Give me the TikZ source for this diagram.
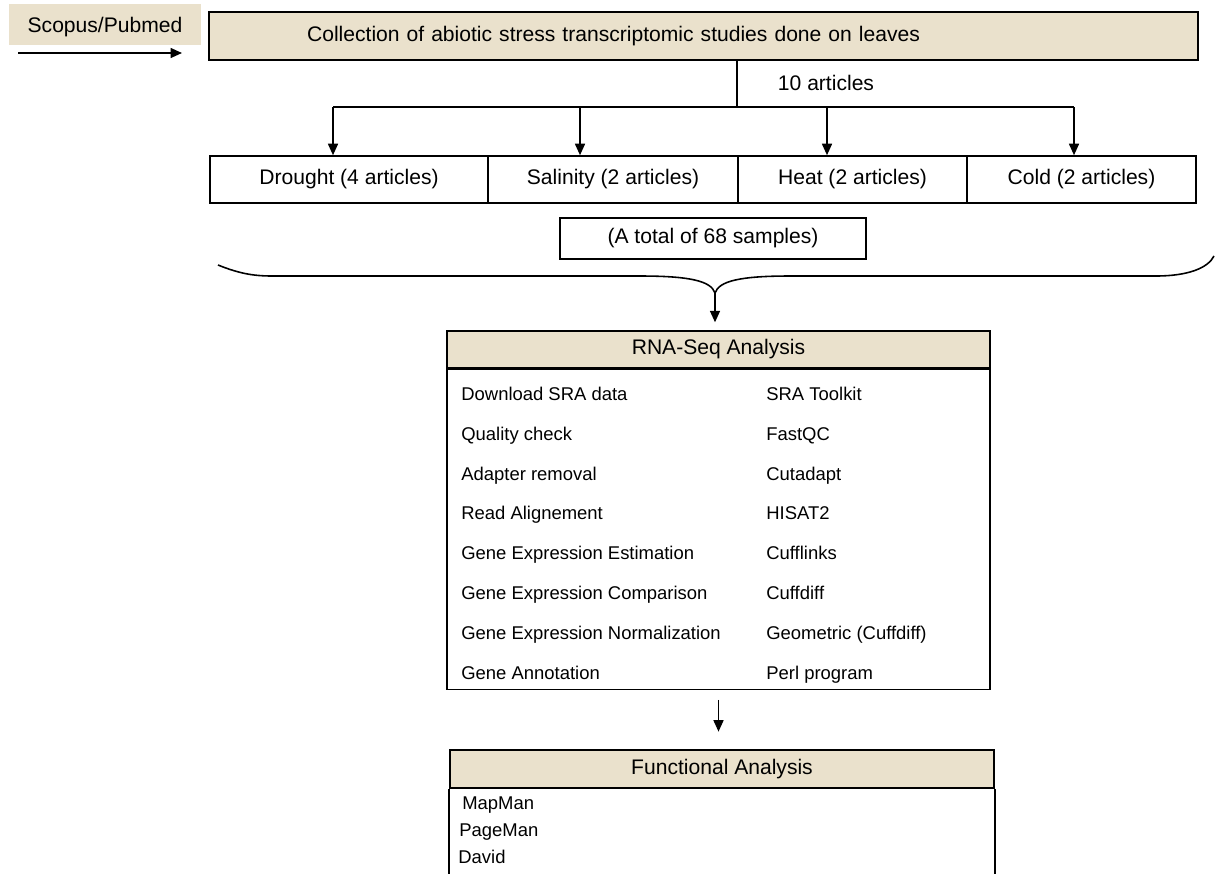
\documentclass[tikz,border=0pt]{standalone}
\usepackage{fontspec}
\setmainfont{Liberation Sans}
\usepackage{tikz}
\usetikzlibrary{arrows.meta, positioning}
\definecolor{tanfill}{HTML}{EAE1CC}

\begin{document}
\begin{tikzpicture}[x=0.02cm, y=-0.02cm,
    box/.style={draw, line width=0.9pt, inner sep=0pt, font=\fontsize{12}{14}\selectfont},
    headbox/.style={box, fill=tanfill},
    item/.style={anchor=base west, inner sep=0pt, font=\fontsize{10.5}{12}\selectfont},
    arr/.style={line width=0.9pt, -{Triangle[length=2.3mm, width=2mm]}}]
    \useasboundingbox (0,0) rectangle (1216,873);
    % source
    \node (scopus) [fill=tanfill, inner sep=0pt, text depth=0pt, minimum width=3.84cm, minimum height=0.82cm, font=\fontsize{12}{14}\selectfont] at (105,24.5) {Scopus/Pubmed};
    \coordinate (srcstart) at (18,53);
    \coordinate (srcend) at (182,53);
    \draw[arr] (srcstart) -- (srcend);
    \node (collect) [headbox, minimum height=0.96cm, text width=15.86cm, inner xsep=1.96cm, align=left] at (703.5,36) {Collection of abiotic stress transcriptomic studies done on leaves};
    % branches
    \coordinate (fork) at (737,107);
    \draw[line width=0.9pt] (collect.south -| fork) -- (fork);
    \node (narticles) [font=\fontsize{12}{14}\selectfont] at (826,83) {10 articles};
    \coordinate (b1) at (333,107);
    \coordinate (b2) at (580,107);
    \coordinate (b3) at (827,107);
    \coordinate (b4) at (1074,107);
    \draw[line width=0.9pt] (b1) -- (b4);
    \node (drought) [box, minimum width=5.56cm, minimum height=0.94cm] at (349,179.5) {Drought (4 articles)};
    \node (salinity) [box, minimum width=5cm, minimum height=0.94cm] at (613,179.5) {Salinity (2 articles)};
    \node (heat) [box, minimum width=4.58cm, minimum height=0.94cm] at (852.5,179.5) {Heat (2 articles)};
    \node (cold) [box, minimum width=4.58cm, minimum height=0.94cm] at (1081.5,179.5) {Cold (2 articles)};
    \foreach \b/\cat in {b1/drought, b2/salinity, b3/heat, b4/cold}
        \draw[arr] (\b) -- (\b |- \cat.north);
    \node (samples) [box, minimum width=6.12cm, minimum height=0.82cm] at (713,238.5) {(A total of 68 samples)};
    % brace
    \coordinate (bracetip) at (715,293);
    \draw[line width=0.9pt] (218,265) .. controls (238,273) and (252,276) .. (272,276) -- (640,276)
        .. controls (690,276) and (711,281) .. (bracetip)
        .. controls (719,281) and (740,276) .. (790,276) -- (1156,276)
        .. controls (1188,276) and (1208,268) .. (1214,256);
    % RNA-Seq
    \node (rnahead) [headbox, minimum width=10.86cm, minimum height=0.74cm] at (718.5,349.5) {RNA-Seq Analysis};
    \draw[arr, shorten >=4.5pt] (bracetip) -- (bracetip |- rnahead.north);
    \node (rnabody) [box, minimum width=10.86cm, minimum height=6.4cm, below=0pt of rnahead] {};
    \foreach \task/\tool [count=\i] in {Download SRA data/SRA Toolkit, Quality check/FastQC,
        Adapter removal/Cutadapt, Read Alignement/HISAT2, Gene Expression Estimation/Cufflinks,
        Gene Expression Comparison/Cuffdiff, Gene Expression Normalization/Geometric (Cuffdiff),
        Gene Annotation/Perl program} {
        \node (task\i) [item] at (461,360.7+39.8*\i) {\task};
        \node (tool\i) [item] at (766,360.7+39.8*\i) {\tool};
    }
    % functional
    \node (funchead) [headbox, minimum width=10.88cm, minimum height=0.76cm] at (722,769) {Functional Analysis};
    \draw[arr, shorten <=5.5pt, shorten >=10pt] (rnabody.south) -- (rnabody.south |- funchead.north);
    \draw[line width=0.9pt] (funchead.south west) -- ++(0,95);
    \draw[line width=0.9pt] (funchead.south east) -- ++(0,95);
    \node (mapman) [item] at (462,809) {MapMan};
    \node (pageman) [item] at (459,836) {PageMan};
    \node (david) [item] at (458,863) {David};
\end{tikzpicture}
\end{document}
